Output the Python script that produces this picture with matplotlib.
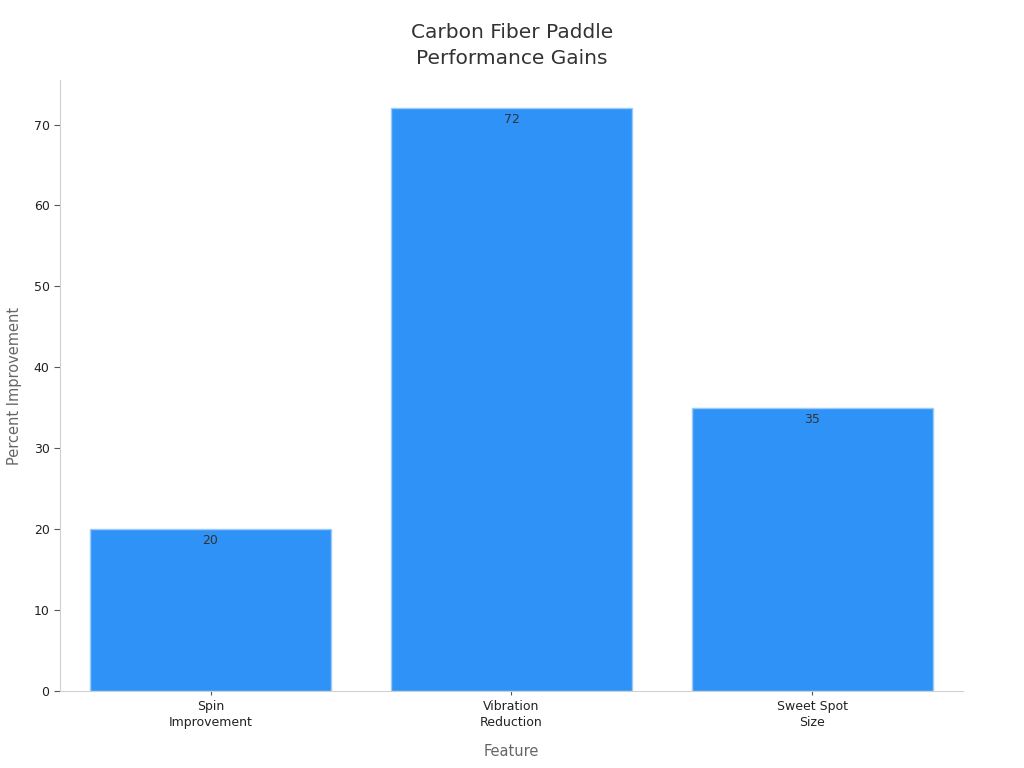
import matplotlib
matplotlib.use("Agg")
import matplotlib.pyplot as plt

categories = ["Spin\nImprovement", "Vibration\nReduction", "Sweet Spot\nSize"]
values = [20, 72, 35]

plt.rcParams['font.family'] = ['DejaVu Sans']

fig = plt.figure(figsize=(10.24, 7.68), dpi=100)
ax = fig.add_axes([0.0586, 0.1003, 0.8818, 0.7955])

x = range(len(categories))
bars = ax.bar(x, values, width=0.8, color="#2f92f7", edgecolor="#9ccbfa", linewidth=1)

for b, v in zip(bars, values):
    ax.text(b.get_x() + b.get_width() / 2, v - 0.6, str(v), ha="center", va="top",
            fontsize=9, color="#333333")

ax.set_xlim(-0.5, 2.5)
ax.set_ylim(0, 75.5)
ax.set_xticks(list(x))
ax.set_xticklabels(categories, fontsize=9, color="#222222", linespacing=1.3)
ax.set_yticks(range(0, 71, 10))
ax.tick_params(axis="y", labelsize=9, labelcolor="#222222", color="#555555", length=4)
ax.tick_params(axis="x", color="#555555", length=3)

for s in ["top", "right"]:
    ax.spines[s].set_visible(False)
for s in ["left", "bottom"]:
    ax.spines[s].set_color("#d0d0d0")

ax.set_xlabel("Feature", fontsize=10.5, color="#666666", labelpad=11)
ax.set_ylabel("Percent Improvement", fontsize=10.5, color="#666666", labelpad=8)
fig.suptitle("Carbon Fiber Paddle\nPerformance Gains", fontsize=14.5, color="#333333",
             y=0.97, linespacing=1.45)

fig.savefig("out.png", dpi=100)
